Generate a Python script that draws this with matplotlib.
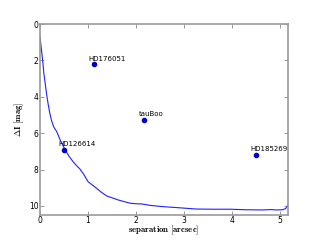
import matplotlib
matplotlib.use("Agg")
import matplotlib.pyplot as plt

plt.rcParams['mathtext.fontset'] = 'cm'

# contrast curve
sep_curve = [0.0, 0.03, 0.055, 0.08, 0.11, 0.14, 0.17, 0.2, 0.24, 0.28, 0.32, 0.35, 0.42, 0.52,
             0.6, 0.69, 0.76, 0.83, 0.92, 1.0, 1.09, 1.18, 1.28, 1.39, 1.5, 1.63, 1.75, 1.88,
             2.0, 2.12, 2.3, 2.57, 2.9, 3.26, 3.6, 3.96, 4.3, 4.65, 4.8, 4.93, 5.05, 5.12, 5.17]
dI_curve = [0.7, 1.4, 2.0, 2.7, 3.3, 3.9, 4.4, 4.85, 5.3, 5.62, 5.8, 5.92, 6.37, 6.9,
            7.25, 7.57, 7.78, 7.96, 8.3, 8.66, 8.85, 9.03, 9.25, 9.45, 9.55, 9.67, 9.76, 9.85,
            9.88, 9.89, 9.97, 10.04, 10.1, 10.17, 10.18, 10.18, 10.21, 10.22, 10.2, 10.22, 10.21, 10.15, 9.95]

# companion stars
names = ['HD176051', 'tauBoo', 'HD126614', 'HD185269']
sep_pts = [1.125, 2.17, 0.5, 4.5]
dI_pts = [2.2, 5.25, 6.9, 7.2]

fig = plt.figure(figsize=(3.2, 2.4), dpi=100)
ax = fig.add_axes([0.125, 0.104, 0.775, 0.796])
ax.plot(sep_curve, dI_curve, color='#2020ff', lw=0.8)
ax.plot(sep_pts, dI_pts, 'o', color='#0000cc', ms=3, mec='#0000cc')
for n, x, y in zip(names, sep_pts, dI_pts):
    ax.annotate(n, (x, y), xytext=(-4, 1.8), textcoords='offset points',
                fontsize=5, ha='left', va='bottom')

ax.set_xlim(0, 5.17)
ax.set_ylim(10.5, 0)
ax.set_xticks([0, 1, 2, 3, 4, 5])
ax.set_yticks([0, 2, 4, 6, 8, 10])
ax.tick_params(direction='in', labelsize=5.5, length=3, width=0.6, color='#888888',
               top=True, right=True, pad=1)
for s in ax.spines.values():
    s.set_color('#999999')
    s.set_linewidth(1.2)
ax.set_xlabel(r'$\mathbf{separation\ [arcsec]}$', fontsize=6.3)
ax.set_ylabel(r'$\mathbf{\Delta I\ [mag]}$', fontsize=6.3)
ax.xaxis.set_label_coords(0.5, -0.047)
ax.yaxis.set_label_coords(-0.055, 0.5)

fig.savefig('out.png', dpi=100)
